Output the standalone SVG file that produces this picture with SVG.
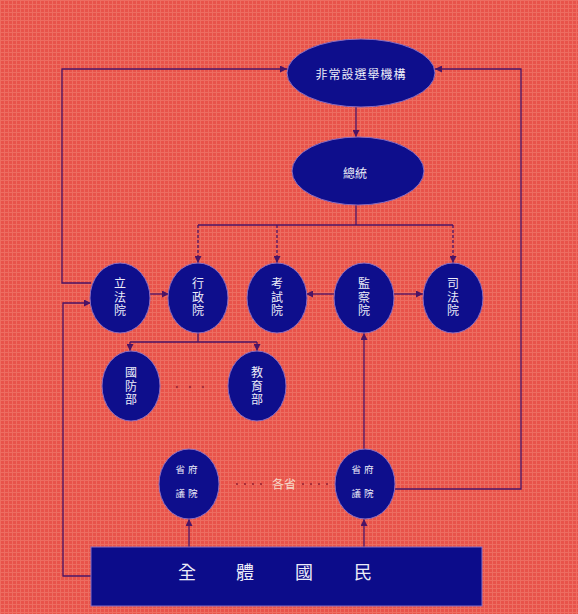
<svg xmlns="http://www.w3.org/2000/svg" width="578" height="614" viewBox="0 0 578 614">
<defs>
<pattern id="grid" width="4" height="4" patternUnits="userSpaceOnUse">
<rect width="4" height="4" fill="#e8534a"/>
<path d="M0 0.5H4M0.5 0V4" stroke="#f07f70" stroke-width="1" opacity="0.6"/>
</pattern>
<marker id="ah" viewBox="0 0 10 10" refX="10" refY="5" markerWidth="7" markerHeight="7" markerUnits="userSpaceOnUse" orient="auto">
<path d="M0 0L10 5L0 10z" fill="#4a1466"/>
</marker>
<style>
.node{fill:#0e0e8c;stroke:#8a6cc0;stroke-width:1}
.ln{fill:none;stroke:#4a1466;stroke-width:1.3}
.dash{stroke-dasharray:3 2}
.t{font-family:"Noto Sans CJK TC","Noto Sans CJK SC",sans-serif;fill:#ececf8;text-anchor:middle;dominant-baseline:central}
.v{writing-mode:vertical-rl;letter-spacing:1.5px}
.s12{font-size:12px}
.s10{font-size:9.5px}
</style>
</defs>
<rect width="578" height="614" fill="url(#grid)"/>

<g id="connectors">
<line class="ln" x1="356" y1="107" x2="356" y2="137" marker-end="url(#ah)"/>
<polyline class="ln" points="356,205 356,225"/>
<polyline class="ln" points="198,225 453,225"/>
<line class="ln dash" x1="198" y1="225" x2="198" y2="263" marker-end="url(#ah)"/>
<line class="ln dash" x1="277" y1="225" x2="277" y2="263" marker-end="url(#ah)"/>
<line class="ln dash" x1="453" y1="225" x2="453" y2="263" marker-end="url(#ah)"/>
<line class="ln" x1="150" y1="294" x2="169" y2="294" marker-end="url(#ah)"/>
<line class="ln" x1="335" y1="294" x2="306" y2="294" marker-end="url(#ah)"/>
<line class="ln" x1="394" y1="294" x2="423" y2="294" marker-end="url(#ah)"/>
<polyline class="ln" points="91,283 62,283 62,69 287,69" marker-end="url(#ah)"/>
<polyline class="ln" points="394,489 521,489 521,69 435,69" marker-end="url(#ah)"/>
<polyline class="ln" points="91,576 63,576 63,303 91,303" marker-end="url(#ah)"/>
<polyline class="ln" points="198,333 198,342"/>
<polyline class="ln" points="130,342 257,342"/>
<line class="ln" x1="130" y1="342" x2="130" y2="351" marker-end="url(#ah)"/>
<line class="ln" x1="257" y1="342" x2="257" y2="351" marker-end="url(#ah)"/>
<line class="ln" x1="189" y1="547" x2="189" y2="519" marker-end="url(#ah)"/>
<line class="ln" x1="364" y1="547" x2="364" y2="519" marker-end="url(#ah)"/>
<line class="ln" x1="364" y1="449" x2="364" y2="333" marker-end="url(#ah)"/>
<line x1="236" y1="484" x2="266" y2="484" stroke="#a8303a" stroke-width="2" stroke-dasharray="2 6"/>
<line x1="302" y1="484" x2="334" y2="484" stroke="#a8303a" stroke-width="2" stroke-dasharray="2 6"/>
</g>

<g id="n-election">
<ellipse class="node" cx="361" cy="73" rx="74" ry="34"/>
<text class="t s12" x="361" y="73" letter-spacing="1">非常設選舉機構</text>
</g>
<g id="n-president">
<ellipse class="node" cx="358" cy="171" rx="66" ry="34"/>
<text class="t s12" x="355" y="172">總統</text>
</g>
<g id="n-legislative">
<ellipse class="node" cx="120" cy="298" rx="30" ry="35"/>
<text class="t s12 v" x="120" y="298">立法院</text>
</g>
<g id="n-executive">
<ellipse class="node" cx="198" cy="298" rx="30" ry="35"/>
<text class="t s12 v" x="198" y="298">行政院</text>
</g>
<g id="n-examination">
<ellipse class="node" cx="277" cy="298" rx="30" ry="35"/>
<text class="t s12 v" x="277" y="298">考試院</text>
</g>
<g id="n-control">
<ellipse class="node" cx="364" cy="298" rx="30" ry="35"/>
<text class="t s12 v" x="364" y="298">監察院</text>
</g>
<g id="n-judicial">
<ellipse class="node" cx="453" cy="298" rx="30" ry="35"/>
<text class="t s12 v" x="453" y="298">司法院</text>
</g>
<g id="n-defense">
<ellipse class="node" cx="131" cy="386" rx="29" ry="35"/>
<text class="t s12 v" x="131" y="387">國防部</text>
</g>
<g id="n-education">
<ellipse class="node" cx="257" cy="386" rx="29" ry="35"/>
<text class="t s12 v" x="257" y="387">教育部</text>
</g>
<g id="dots">
<circle cx="177" cy="387" r="1.2" fill="#a8303a"/>
<circle cx="190" cy="387" r="1.2" fill="#a8303a"/>
<circle cx="203" cy="387" r="1.2" fill="#a8303a"/>
</g>
<g id="n-province-left">
<ellipse class="node" cx="189" cy="484" rx="30" ry="35"/>
<text class="t s10" x="188" y="469" letter-spacing="3">省府</text>
<text class="t s10" x="188" y="493" letter-spacing="3">議院</text>
</g>
<g id="n-province-right">
<ellipse class="node" cx="365" cy="484" rx="30" ry="35"/>
<text class="t s10" x="364" y="469" letter-spacing="3">省府</text>
<text class="t s10" x="364" y="493" letter-spacing="3">議院</text>
</g>
<text class="t" x="284" y="483" font-size="12" style="fill:#f6d8c8">各省</text>
<g id="n-people">
<rect x="91" y="547" width="391" height="59" fill="#0c0c8a" stroke="#8a6cc0" stroke-width="1"/>
<text class="t" x="187" y="571" font-size="18">全</text>
<text class="t" x="245" y="571" font-size="18">體</text>
<text class="t" x="304" y="571" font-size="18">國</text>
<text class="t" x="363" y="571" font-size="18">民</text>
</g>
</svg>
